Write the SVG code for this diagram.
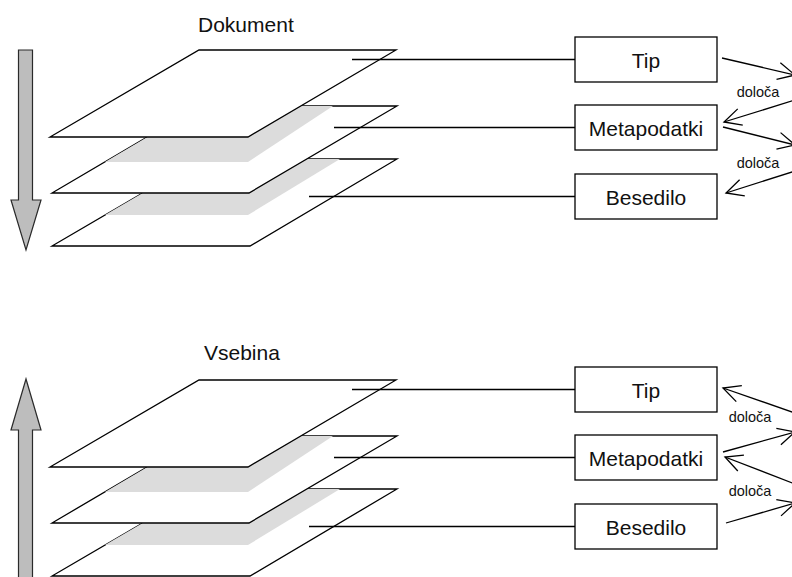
<svg xmlns="http://www.w3.org/2000/svg" width="792" height="577" viewBox="0 0 792 577">
  <defs>
    <style>
      .sheet { fill: #ffffff; stroke: #000000; stroke-width: 1.3; stroke-linejoin: miter; }
      .shade { fill: #dcdcdc; stroke: none; }
      .flow { fill: #bdbdbd; stroke: #2a2a2a; stroke-width: 1.2; }
      .box { fill: #ffffff; stroke: #000000; stroke-width: 1.3; }
      .link { fill: none; stroke: #000000; stroke-width: 1.3; }
      .rel { fill: none; stroke: #000000; stroke-width: 1.3; marker-end: url(#vhead); }
      .title { font-family: "Liberation Sans", Arial, sans-serif; font-size: 21px; fill: #111111; }
      .label { font-family: "Liberation Sans", Arial, sans-serif; font-size: 21px; fill: #111111; text-anchor: middle; }
      .small { font-family: "Liberation Sans", Arial, sans-serif; font-size: 14.5px; fill: #111111; text-anchor: middle; }
    </style>
    <marker id="vhead" markerUnits="userSpaceOnUse" orient="auto" refX="0" refY="0" markerWidth="1" markerHeight="1" overflow="visible">
      <path d="M-17,-8.5 L0,0 L-17,8.5" fill="none" stroke="#000000" stroke-width="1.3"/>
    </marker>
    <!-- one stack of three layers, reused for both halves -->
    <g id="stack">
      <polygon class="sheet" points="201,159 397,159 250,246 52,246"/>
      <polygon class="shade" points="201,159 340,159 248,215 105,215"/>
      <polygon class="sheet" points="200,106 397,106 249,193 52,193"/>
      <polygon class="shade" points="200,106 333,106 248,162 105,162"/>
      <polygon class="sheet" points="199,50 396,50 248,137 50,137"/>
    </g>
  </defs>

  <!-- upper half: Dokument -->
  <g id="dokument">
    <text class="title" x="198" y="32">Dokument</text>
    <use href="#stack"/>
  </g>
  <g id="arrow-down">
    <path class="flow" d="M18.5,50 L32.5,50 L32.5,200 L41,200 L26,250 L11,200 L18.5,200 Z"/>
  </g>
  <g id="tip-1">
    <rect class="box" x="575" y="37" width="142" height="45"/>
    <text class="label" x="646" y="68">Tip</text>
  </g>
  <g id="metapodatki-1">
    <rect class="box" x="575" y="105" width="142" height="45"/>
    <text class="label" x="646" y="136">Metapodatki</text>
  </g>
  <g id="besedilo-1">
    <rect class="box" x="575" y="174" width="142" height="45"/>
    <text class="label" x="646" y="205">Besedilo</text>
  </g>

  <!-- lower half: Vsebina -->
  <g id="vsebina">
    <text class="title" x="204" y="360">Vsebina</text>
    <use href="#stack" transform="translate(0,330)"/>
  </g>
  <g id="arrow-up">
    <path class="flow" d="M18.5,585 L32.5,585 L32.5,430 L41,430 L26,379 L11,430 L18.5,430 Z"/>
  </g>
  <g id="tip-2">
    <rect class="box" x="575" y="367" width="142" height="45"/>
    <text class="label" x="646" y="398">Tip</text>
  </g>
  <g id="metapodatki-2">
    <rect class="box" x="575" y="435" width="142" height="45"/>
    <text class="label" x="646" y="466">Metapodatki</text>
  </g>
  <g id="besedilo-2">
    <rect class="box" x="575" y="504" width="142" height="45"/>
    <text class="label" x="646" y="535">Besedilo</text>
  </g>

  <g id="connectors">
    <!-- layer to box leaders -->
    <line class="link" x1="352" y1="59.5" x2="575" y2="59.5"/>
    <line class="link" x1="334" y1="127.5" x2="575" y2="127.5"/>
    <line class="link" x1="309" y1="196.5" x2="575" y2="196.5"/>
    <line class="link" x1="352" y1="389.5" x2="575" y2="389.5"/>
    <line class="link" x1="334" y1="457.5" x2="575" y2="457.5"/>
    <line class="link" x1="309" y1="526.5" x2="575" y2="526.5"/>
    <!-- "določa" relations, upper half -->
    <path class="rel" d="M722,58 L795,75"/>
    <path class="rel" d="M795,100 L724,122"/>
    <path class="rel" d="M723,127 L795,145"/>
    <path class="rel" d="M795,171 L726,193"/>
    <!-- "določa" relations, lower half -->
    <path class="rel" d="M795,413 L723,388"/>
    <path class="rel" d="M723,452 L795,432"/>
    <path class="rel" d="M795,484 L725,457"/>
    <path class="rel" d="M726,523 L795,503"/>
    <text class="small" x="758" y="97">določa</text>
    <text class="small" x="758" y="168">določa</text>
    <text class="small" x="750" y="422">določa</text>
    <text class="small" x="750" y="496">določa</text>
  </g>
</svg>
